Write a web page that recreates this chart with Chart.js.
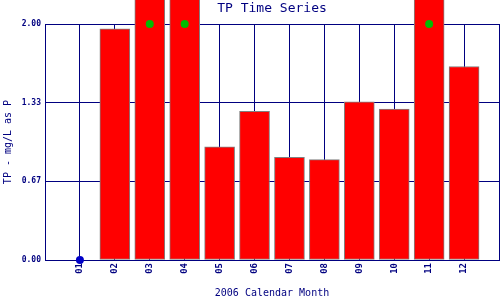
<!DOCTYPE html>
<html>
<head>
<meta charset="utf-8">
<script src="https://cdn.jsdelivr.net/npm/chart.js@4"></script>
<style>
  html, body { margin: 0; padding: 0; background: #ffffff; }
  #wrap { width: 500px; height: 300px; }
</style>
</head>
<body>
<div id="wrap"><canvas id="chart"></canvas></div>
<script>
// 2006 monthly TP values (mg/L as P); bars above 2.00 run off the scale
var months = ['01', '02', '03', '04', '05', '06', '07', '08', '09', '10', '11', '12'];
var tpValues = [null, 1.96, 2.6, 2.6, 0.96, 1.26, 0.87, 0.85, 1.34, 1.28, 2.6, 1.64];
// markers: blue = zero / no sample, green = value beyond axis max
var zeroMarks = [0, null, null, null, null, null, null, null, null, null, null, null];
var capMarks = [null, null, 2.0, 2.0, null, null, null, null, null, null, 2.0, null];
var yTicks = [0, 0.667, 1.333, 2.0];

var navy = '#000080';
var mono = '"DejaVu Sans Mono", "Liberation Mono", monospace';

// pad one empty slot on each side so gridlines land on the plot edges
function pad(arr) {
  return [null].concat(arr, [null]);
}
var labels = [''].concat(months, ['']);

window.onload = function() {
  var ctx = document.getElementById('chart').getContext('2d');
  new Chart(ctx, {
    type: 'bar',
    data: {
      labels: labels,
      datasets: [{
        type: 'line',
        data: pad(zeroMarks),
        showLine: false,
        pointRadius: 4,
        pointBackgroundColor: '#0000c8',
        pointBorderWidth: 0,
        clip: false,
        order: 0
      }, {
        type: 'line',
        data: pad(capMarks),
        showLine: false,
        pointRadius: 4,
        pointBackgroundColor: '#00bb00',
        pointBorderWidth: 0,
        clip: false,
        order: 1
      }, {
        data: pad(tpValues),
        backgroundColor: '#ff0000',
        borderColor: '#808080',
        borderWidth: 1,
        borderSkipped: false,
        barThickness: 30,
        clip: false,
        order: 2
      }]
    },
    options: {
      responsive: true,
      maintainAspectRatio: false,
      animation: false,
      events: [],
      layout: { autoPadding: false, padding: { left: 0, right: 1, top: 0, bottom: 0 } },
      plugins: {
        legend: { display: false },
        tooltip: { enabled: false },
        title: {
          display: true,
          text: 'TP Time Series',
          color: navy,
          fullSize: false,
          font: { family: mono, size: 13, weight: 'normal' },
          padding: { top: 1, bottom: 7.4 }
        }
      },
      scales: {
        x: {
          offset: false,
          grid: { color: navy, lineWidth: 1, drawTicks: false, offset: false },
          border: { color: navy, width: 1 },
          ticks: {
            color: navy,
            autoSkip: false,
            maxRotation: 90,
            minRotation: 90,
            padding: 3,
            font: { family: mono, size: 9, weight: 'bold' }
          },
          title: {
            display: true,
            text: '2006 Calendar Month',
            color: navy,
            font: { family: mono, size: 10 },
            padding: { top: 0, bottom: 1 }
          },
          afterFit: function(scale) {
            scale.height = 40;
            scale.paddingLeft = 0;
            scale.paddingRight = 0;
          }
        },
        y: {
          min: 0,
          max: 2,
          grid: { color: navy, lineWidth: 1, drawTicks: false },
          border: { color: navy, width: 1 },
          afterBuildTicks: function(scale) {
            scale.ticks = yTicks.map(function(v) { return { value: v }; });
          },
          ticks: {
            color: navy,
            padding: 4,
            font: { family: mono, size: 8, weight: 'bold' },
            callback: function(v) { return Number(v).toFixed(2); }
          },
          title: {
            display: true,
            text: 'TP - mg/L as P',
            color: navy,
            font: { family: mono, size: 10 },
            padding: { top: 2, bottom: 0 }
          },
          afterFit: function(scale) {
            scale.width = 45;
            scale.paddingTop = 0;
            scale.paddingBottom = 0;
          }
        }
      }
    }
  });
};
</script>
</body>
</html>
